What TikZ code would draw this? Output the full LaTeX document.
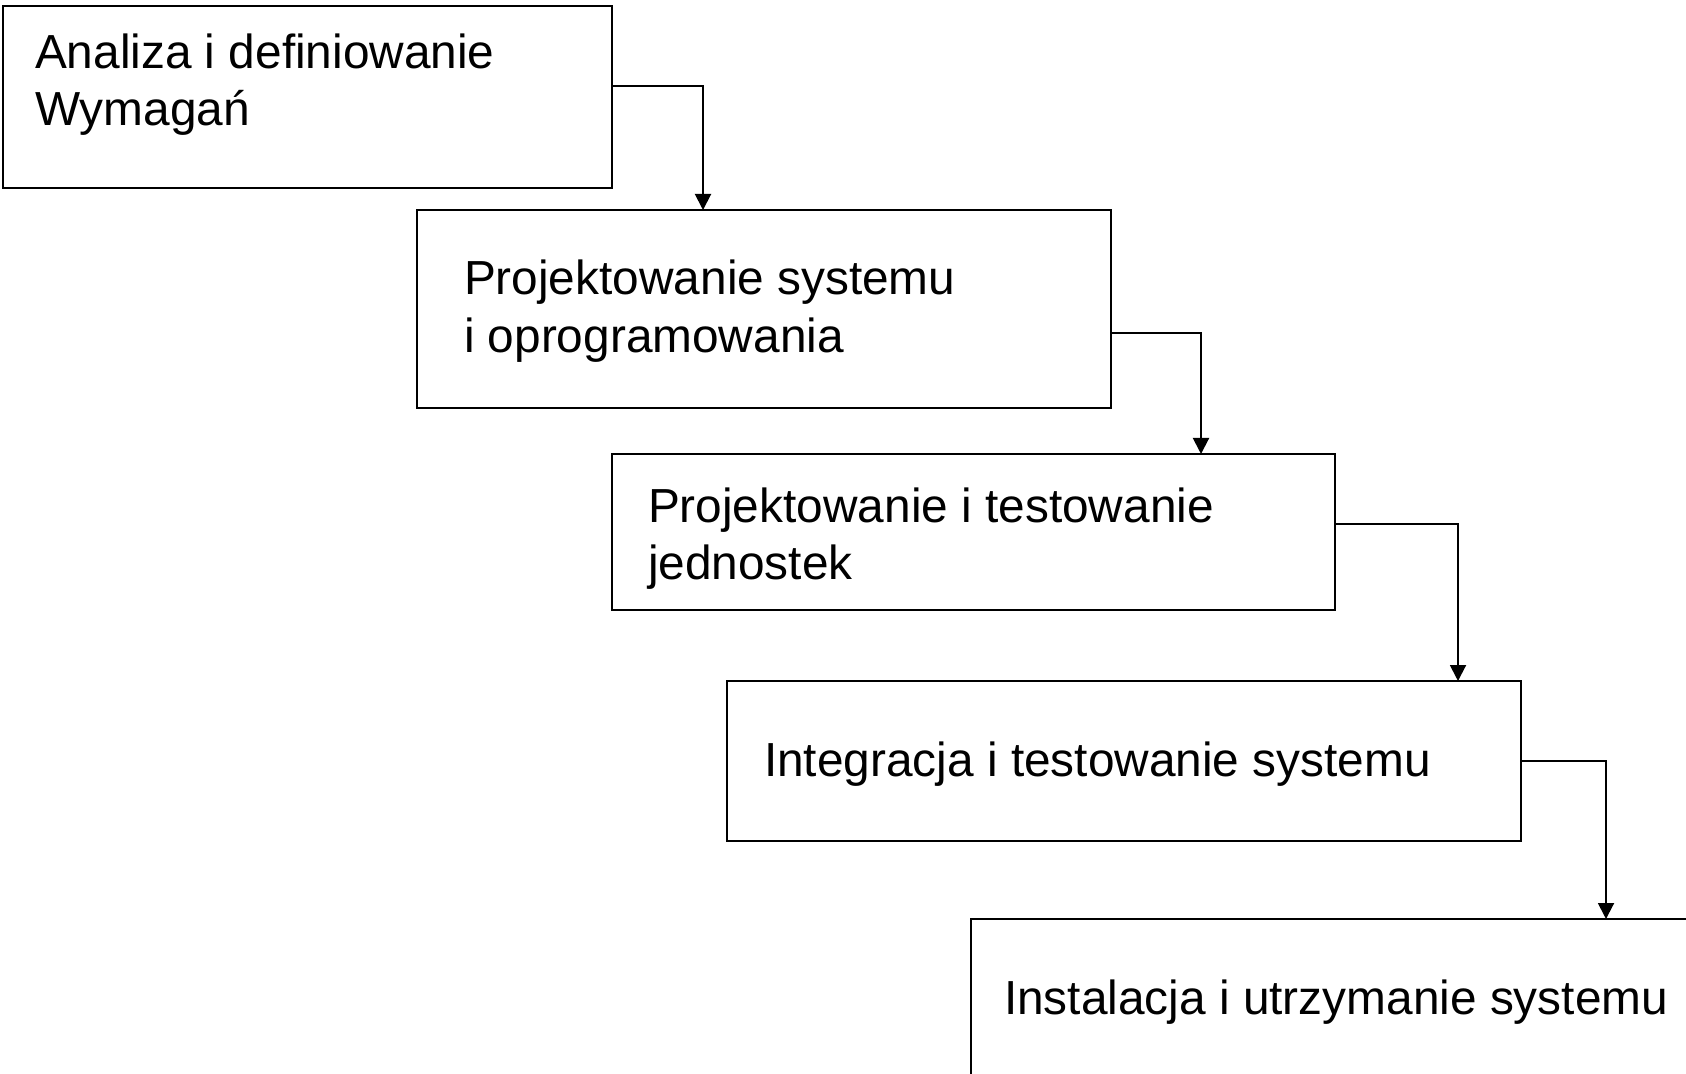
\documentclass[tikz,border=0pt]{standalone}
\usepackage{fontspec}
\setmainfont{Liberation Sans}
\usetikzlibrary{arrows.meta,fit}
\begin{document}
\begin{tikzpicture}[x=0.5pt,y=-0.5pt,
  box/.style={draw=black,line width=1pt,inner sep=0pt,outer sep=0pt},
  lbl/.style={anchor=base west,inner sep=0pt,outer sep=0pt,
    font=\fontsize{23.9}{28.5}\selectfont},
  conn/.style={draw=black,line width=1pt,-{Triangle[length=8pt,width=8pt]}}]
\useasboundingbox (0,0) rectangle (1686,1074);
\clip (0,0) rectangle (1686,1074);
\fill[white] (0,0) rectangle (1686,1074);
% boxes
\node[box,fit={(3,6) (612,188)}] (b1) {};
\node[box,fit={(417,210) (1111,408)}] (b2) {};
\node[box,fit={(612,454) (1335,610)}] (b3) {};
\node[box,fit={(727,681) (1521,841)}] (b4) {};
\node[box,fit={(971,919) (1720,1110)}] (b5) {};
% labels
\node[lbl] (t1a) at (35,69) {Analiza i definiowanie};
\node[lbl] (t1b) at (35,126) {Wymagań};
\node[lbl] (t2a) at (464,295) {Projektowanie systemu};
\node[lbl] (t2b) at (464,353) {i oprogramowania};
\node[lbl] (t3a) at (648,523) {Projektowanie i testowanie};
\node[lbl] (t3b) at (648,580) {jednostek};
\node[lbl] (t4) at (764,776) {Integracja i testowanie systemu};
\node[lbl] (t5) at (1004,1014) {Instalacja i utrzymanie systemu};
% connectors
\coordinate (c1) at (703,86);
\coordinate (c2) at (1201,333);
\coordinate (c3) at (1458,524);
\coordinate (c4) at (1606,761);
\draw[conn] (b1.east |- c1) -- (c1) -- (c1 |- b2.north);
\draw[conn] (b2.east |- c2) -- (c2) -- (c2 |- b3.north);
\draw[conn] (b3.east |- c3) -- (c3) -- (c3 |- b4.north);
\draw[conn] (b4.east |- c4) -- (c4) -- (c4 |- b5.north);
\end{tikzpicture}
\end{document}
